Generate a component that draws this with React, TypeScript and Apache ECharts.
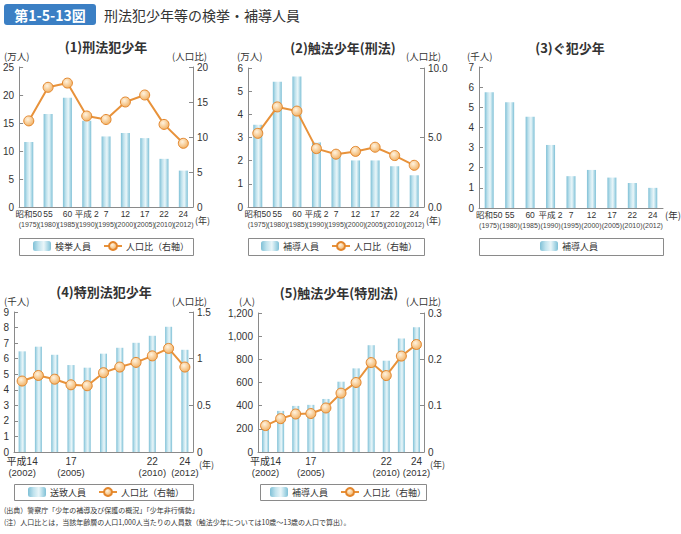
import React, { useEffect, useRef } from "react";
import * as echarts from "echarts";

// ---- data ----
const catsA = ["昭和50", "55", "60", "平成 2", "7", "12", "17", "22", "24"];
const yearsA = ["1975", "1980", "1985", "1990", "1995", "2000", "2005", "2010", "2012"];
const catsB = ["平成14", "15", "16", "17", "18", "19", "20", "21", "22", "23", "24"];
const yearsB = ["2002", "2003", "2004", "2005", "2006", "2007", "2008", "2009", "2010", "2011", "2012"];
const shownB = [0, 3, 8, 10];

const p1Arrested = [11.6, 16.6, 19.5, 15.4, 12.6, 13.2, 12.3, 8.6, 6.5];
const p1Ratio = [12.3, 17.1, 17.7, 13.0, 12.5, 15.0, 16.0, 11.8, 9.1];
const p2Guided = [3.55, 5.41, 5.63, 2.79, 2.3, 2.01, 2.01, 1.76, 1.37];
const p2Ratio = [5.3, 7.2, 6.9, 4.2, 3.8, 4.0, 4.3, 3.7, 3.0];
const p3Guided = [5.75, 5.25, 4.53, 3.13, 1.58, 1.89, 1.51, 1.24, 1.0];
const p4Sent = [6.47, 6.77, 6.25, 5.59, 5.42, 6.32, 6.7, 7.02, 7.47, 8.05, 6.57];
const p4Ratio = [0.76, 0.82, 0.78, 0.72, 0.71, 0.85, 0.91, 0.96, 1.03, 1.11, 0.91];
const p5Guided = [272, 355, 398, 407, 458, 607, 722, 922, 788, 980, 1077];
const p5Ratio = [0.057, 0.072, 0.082, 0.083, 0.095, 0.127, 0.15, 0.193, 0.165, 0.207, 0.232];

const CJK = "'Noto Sans CJK JP', sans-serif";
const NUM = "'Liberation Sans', 'Noto Sans CJK JP', sans-serif";
const NARROW = "'Liberation Sans Narrow', 'Liberation Sans', 'Noto Sans CJK JP', sans-serif";
const AXIS = "#8a8a8a";
const LINE = "#e8923a";

const barFill = () =>
  new echarts.graphic.LinearGradient(0, 0, 1, 0, [
    { offset: 0, color: "#7fc0d6" },
    { offset: 0.3, color: "#bfe2ed" },
    { offset: 0.6, color: "#eaf6f9" },
    { offset: 0.85, color: "#a6d5e4" },
    { offset: 1, color: "#7fc0d6" },
  ]);
const dotFill = () =>
  new echarts.graphic.RadialGradient(0.4, 0.35, 0.7, [
    { offset: 0, color: "#fff3df" },
    { offset: 1, color: "#f1ae5e" },
  ]);

export default function App() {
  const ref = useRef<HTMLDivElement>(null);
  useEffect(() => {
    if (!ref.current) return;
    const chart = echarts.init(ref.current, null, { renderer: "svg" });

    const grids = [
      { left: 19, top: 67, width: 174, height: 140 },
      { left: 248, top: 68, width: 176, height: 139 },
      { left: 479, top: 67, width: 184, height: 141 },
      { left: 14, top: 312, width: 179, height: 140 },
      { left: 258, top: 313, width: 166, height: 139 },
    ];

    const xA = (gi: number) => ({
      type: "category",
      gridIndex: gi,
      data: catsA.map((c, i) => c + "|" + yearsA[i]),
      axisLine: { lineStyle: { color: AXIS } },
      axisTick: { inside: true, length: 3, lineStyle: { color: AXIS } },
      axisLabel: {
        interval: 0,
        margin: 1,
        hideOverlap: false,
        formatter: (v: string) => {
          const [a, b] = v.split("|");
          return "{a|" + a + "}\n{b|(" + b + ")}";
        },
        rich: {
          a: { fontSize: 8.5, lineHeight: 11, fontFamily: NARROW, color: "#333" },
          b: { fontSize: 7, lineHeight: 10, fontFamily: NARROW, color: "#444" },
        },
      },
    });
    const xB = (gi: number) => ({
      type: "category",
      gridIndex: gi,
      data: catsB.map((c, i) => c + "|" + yearsB[i]),
      axisLine: { lineStyle: { color: AXIS } },
      axisTick: { inside: true, length: 3, interval: 0, lineStyle: { color: AXIS } },
      axisLabel: {
        interval: (i: number) => shownB.includes(i),
        margin: 4,
        hideOverlap: false,
        formatter: (v: string) => {
          const [a, b] = v.split("|");
          return "{a|" + a + "}\n{b|(" + b + ")}";
        },
        rich: {
          a: { fontSize: 10, lineHeight: 11, fontFamily: NUM, color: "#333" },
          b: { fontSize: 9.5, lineHeight: 11, fontFamily: NUM, color: "#333" },
        },
      },
    });
    const yAx = (gi: number, pos: string, max: number, interval: number, fmt?: (v: number) => string) => ({
      type: "value",
      gridIndex: gi,
      position: pos,
      min: 0,
      max,
      interval,
      splitLine: { show: false },
      axisLine: { show: true, lineStyle: { color: AXIS } },
      axisTick: { show: true, inside: true, length: 4, lineStyle: { color: AXIS } },
      axisLabel: {
        fontSize: 10,
        fontFamily: NUM,
        color: "#333",
        margin: pos === "left" ? 5 : 4,
        formatter: fmt,
      },
    });

    const barS = (name: string, xi: number, yi: number, data: number[], w: number) => ({
      type: "bar",
      name,
      xAxisIndex: xi,
      yAxisIndex: yi,
      data,
      barWidth: w,
      itemStyle: { color: barFill() },
      z: 2,
    });
    const lineS = (xi: number, yi: number, data: number[]) => ({
      type: "line",
      name: "人口比（右軸）",
      xAxisIndex: xi,
      yAxisIndex: yi,
      data,
      symbol: "circle",
      symbolSize: 10,
      lineStyle: { color: LINE, width: 2 },
      itemStyle: { color: dotFill(), borderColor: "#e3862c", borderWidth: 1 },
      z: 3,
    });

    const legend = (left: number, top: number, data: string[]) => ({
      left,
      top,
      data,
      orient: "horizontal",
      itemWidth: 18,
      itemHeight: 10,
      itemGap: 12,
      selectedMode: false,
      padding: 0,
      textStyle: { fontSize: 9, fontFamily: CJK, color: "#333", padding: [0, 0, 0, -1] },
    });

    const txt = (x: number, y: number, text: string, size: number, align = "left", weight = "normal", family = CJK) => ({
      type: "text",
      x,
      y,
      style: {
        text,
        fontSize: size,
        fontFamily: family,
        fontWeight: weight,
        fill: "#333",
        align,
        verticalAlign: "middle",
      },
    });
    const box = (x: number, y: number, w: number, h: number) => ({
      type: "rect",
      shape: { x: x + 0.5, y: y + 0.5, width: w, height: h },
      style: { fill: "none", stroke: "#8a8a8a", lineWidth: 1 },
    });

    chart.setOption({
      animation: false,
      backgroundColor: "#fff",
      grid: grids,
      xAxis: [xA(0), xA(1), xA(2), xB(3), xB(4)],
      yAxis: [
        yAx(0, "left", 25, 5),
        yAx(0, "right", 20, 5),
        yAx(1, "left", 6, 1),
        yAx(1, "right", 10, 5, (v: number) => v.toFixed(1)),
        yAx(2, "left", 7, 1),
        yAx(3, "left", 9, 1),
        yAx(3, "right", 1.5, 0.5),
        yAx(4, "left", 1200, 200, (v: number) => v.toLocaleString("en-US")),
        yAx(4, "right", 0.3, 0.1, (v: number) => String(Math.round(v * 10) / 10)),
      ],
      series: [
        barS("検挙人員", 0, 0, p1Arrested, 9),
        lineS(0, 1, p1Ratio),
        barS("補導人員", 1, 2, p2Guided, 9),
        lineS(1, 3, p2Ratio),
        barS("補導人員", 2, 4, p3Guided, 9),
        barS("送致人員", 3, 5, p4Sent, 7),
        lineS(3, 6, p4Ratio),
        barS("補導人員", 4, 7, p5Guided, 7),
        lineS(4, 8, p5Ratio),
      ],
      legend: [
        legend(33, 241, ["検挙人員", "人口比（右軸）"]),
        legend(261, 241, ["補導人員", "人口比（右軸）"]),
        legend(540, 241, ["補導人員"]),
        legend(28, 487, ["送致人員", "人口比（右軸）"]),
        legend(270, 487, ["補導人員", "人口比（右軸）"]),
      ],
      graphic: [
        {
          type: "rect",
          shape: { x: 4, y: 4, width: 92, height: 21, r: 3 },
          style: { fill: "#3b7fc4" },
        },
        {
          type: "text",
          x: 50,
          y: 14.5,
          style: {
            text: "第1-5-13図",
            fontSize: 14,
            fontWeight: "bold",
            fontFamily: CJK,
            fill: "#fff",
            align: "center",
            verticalAlign: "middle",
          },
        },
        txt(104, 14.5, "刑法犯少年等の検挙・補導人員", 14, "left", "normal"),
        txt(106, 46, "(1)刑法犯少年", 13, "center", "bold"),
        txt(343, 47, "(2)触法少年(刑法)", 13, "center", "bold"),
        txt(570, 47, "(3)ぐ犯少年", 13, "center", "bold"),
        txt(104, 291, "(4)特別法犯少年", 13, "center", "bold"),
        txt(339, 292, "(5)触法少年(特別法)", 13, "center", "bold"),
        txt(4, 56, "(万人)", 9.5),
        txt(172, 56, "(人口比)", 9.5),
        txt(237, 56, "(万人)", 9.5),
        txt(406, 56, "(人口比)", 9.5),
        txt(467, 56, "(千人)", 9.5),
        txt(4, 301, "(千人)", 9.5),
        txt(172, 301, "(人口比)", 9.5),
        txt(239, 301, "(人)", 9.5),
        txt(406, 301, "(人口比)", 9.5),
        txt(195, 220, "(年)", 9),
        txt(426, 220, "(年)", 9),
        txt(665, 215, "(年)", 9.5),
        txt(199, 464, "(年)", 9),
        txt(430, 464, "(年)", 9),
        box(19, 238, 174, 17),
        box(248, 238, 176, 17),
        box(479, 238, 184, 17),
        box(14, 484, 179, 16),
        box(260, 484, 166, 16),
        txt(4, 510, "(出典）警察庁「少年の補導及び保護の概況」「少年非行情勢」", 7, "left", "normal"),
        txt(4, 522, "(注）人口比とは，当該年齢層の人口1,000人当たりの人員数（触法少年については10歳～13歳の人口で算出）。", 7, "left", "normal"),
      ],
    });
    return () => chart.dispose();
  }, []);
  return (
    <div
      ref={ref}
      style={{ position: "fixed", left: 0, top: 0, width: 681, height: 534, background: "#fff" }}
    />
  );
}
